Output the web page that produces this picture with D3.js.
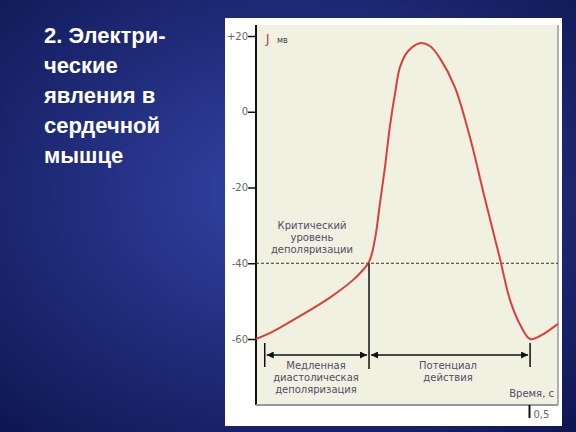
<!DOCTYPE html>
<html><head><meta charset="utf-8">
<script src="https://cdn.jsdelivr.net/npm/d3@7"></script>
<style>body{margin:0;overflow:hidden}</style>
</head><body><svg id="c" width="576" height="432"></svg>
<script>
const titleLines = ["2. Электри-", "ческие", "явления в", "сердечной", "мышце"];
const yTicks = [20, 0, -20, -40, -60];
const yTickLabels = ["+20", "0", "-20", "-40", "-60"];
const times = [0, .026, .081, .136, .181, .207, .218, .227, .236, .245, .255, .264, .278, .300, .319, .337, .364, .392, .419, .447, .465, .484, .502, .520, .538, .553];
const volts = [-60, -58.4, -53.9, -49, -44, -39.6, -33.5, -24.2, -14.8, -4.1, 5.2, 11.9, 15.9, 18.1, 17.3, 14.1, 6.6, -6.8, -22.8, -38.9, -49.6, -56.3, -60, -59.2, -57.6, -56];
const threshold = -40;
const markTimes = [0.016, 0.207, 0.502];

const svg = d3.select("#c");
const defs = svg.append("defs");
const g = defs.append("radialGradient").attr("id", "bg").attr("cx", "50%").attr("cy", "45%").attr("r", "75%");
g.append("stop").attr("offset", "0%").attr("stop-color", "#3444a8");
g.append("stop").attr("offset", "100%").attr("stop-color", "#0e1650");
defs.append("marker").attr("id", "ar").attr("viewBox", "0 0 10 10").attr("refX", 10).attr("refY", 5)
  .attr("markerWidth", 9).attr("markerHeight", 7).attr("orient", "auto-start-reverse").attr("markerUnits", "userSpaceOnUse")
  .append("path").attr("d", "M0,0L10,5L0,10z").attr("fill", "#111");

svg.append("rect").attr("width", 576).attr("height", 432).attr("fill", "url(#bg)");

svg.append("g").selectAll("text").data(titleLines).enter().append("text")
  .attr("x", 44).attr("y", (d, i) => 43 + i * 30)
  .attr("fill", "#fff").style("font", "bold 22px 'Liberation Sans', Arial").text(d => d);

svg.append("rect").attr("x", 225).attr("y", 18).attr("width", 337).attr("height", 408).attr("fill", "#fff");

const x = d3.scaleLinear().domain([0, 0.5]).range([256, 529]);
const y = d3.scaleLinear().domain([-60, 20]).range([339, 36]);
const x0 = 256, x1 = 558, yTop = 25, yBot = 405;

svg.append("rect").attr("x", x0).attr("y", yTop).attr("width", x1 - x0).attr("height", yBot - yTop).attr("fill", "#f1f1e2");

// axes
svg.append("line").attr("x1", x0).attr("x2", x0).attr("y1", yTop).attr("y2", yBot).attr("stroke", "#111").attr("stroke-width", 2);
svg.append("line").attr("x1", x0).attr("x2", x1).attr("y1", yBot).attr("y2", yBot).attr("stroke", "#999").attr("stroke-width", 2);
svg.append("line").attr("x1", x1).attr("x2", x1).attr("y1", yTop).attr("y2", yBot).attr("stroke", "#999").attr("stroke-width", 1.5);

const ya = svg.append("g").attr("transform", `translate(${x0},0)`)
  .call(d3.axisLeft(y).tickValues(yTicks).tickSize(8).tickFormat((d, i) => yTickLabels[i]));
ya.select(".domain").remove();
ya.selectAll("line").attr("stroke", "#111").attr("stroke-width", 1.5);
ya.selectAll("text").attr("fill", "#666").style("font", "10px 'DejaVu Sans'").attr("x", -8);

const xa = svg.append("g").attr("transform", `translate(0,${yBot})`)
  .call(d3.axisBottom(x).tickValues([0.5]).tickSize(13).tickFormat(() => "0,5"));
xa.select(".domain").remove();
xa.selectAll("line").attr("stroke", "#111").attr("stroke-width", 2);
xa.selectAll("text").attr("fill", "#666").style("font", "10px 'DejaVu Sans'").attr("text-anchor", "start").attr("x", 4).attr("y", 6);

// threshold
svg.append("line").attr("x1", x0).attr("x2", x1).attr("y1", y(threshold)).attr("y2", y(threshold))
  .attr("stroke", "#333").attr("stroke-dasharray", "3,2");

// curve
svg.append("path").datum(d3.zip(times, volts))
  .attr("d", d3.line().x(d => x(d[0])).y(d => y(d[1])).curve(d3.curveCatmullRom))
  .attr("fill", "none").attr("stroke", "#d9403a").attr("stroke-width", 2);

// vertical markers
svg.append("line").attr("x1", x(markTimes[0])).attr("x2", x(markTimes[0])).attr("y1", 343).attr("y2", 367).attr("stroke", "#111").attr("stroke-width", 1.5);
svg.append("line").attr("x1", x(markTimes[1])).attr("x2", x(markTimes[1])).attr("y1", y(threshold)).attr("y2", 369).attr("stroke", "#111").attr("stroke-width", 1.5);
svg.append("line").attr("x1", x(markTimes[2])).attr("x2", x(markTimes[2])).attr("y1", 343).attr("y2", 367).attr("stroke", "#111").attr("stroke-width", 1.5);
[[0, 1], [1, 2]].forEach(([a, b]) => {
  svg.append("line").attr("x1", x(markTimes[a]) + 2).attr("x2", x(markTimes[b]) - 2).attr("y1", 355).attr("y2", 355)
    .attr("stroke", "#111").attr("stroke-width", 1.5).attr("marker-start", "url(#ar)").attr("marker-end", "url(#ar)");
});

function label(lines, cx, cy) {
  svg.append("g").selectAll("text").data(lines).enter().append("text")
    .attr("x", cx).attr("y", (d, i) => cy + i * 12).attr("text-anchor", "middle")
    .attr("fill", "#554c66").style("font", "10px 'DejaVu Sans'").text(d => d);
}
label(["Критический", "уровень", "деполяризации"], 312, 229);
label(["Медленная", "диастолическая", "деполяризация"], 316, 369);
label(["Потенциал", "действия"], 448, 369);
svg.append("text").attr("x", 554).attr("y", 397).attr("text-anchor", "end").attr("fill", "#554c66").style("font", "10px 'DejaVu Sans'").text("Время, с");
svg.append("text").attr("x", 266).attr("y", 43).attr("fill", "#c33").style("font", "12px 'DejaVu Sans'").text("J");
svg.append("text").attr("x", 277).attr("y", 43).attr("fill", "#444").style("font", "8px 'DejaVu Sans'").text("мв");
</script></body></html>
